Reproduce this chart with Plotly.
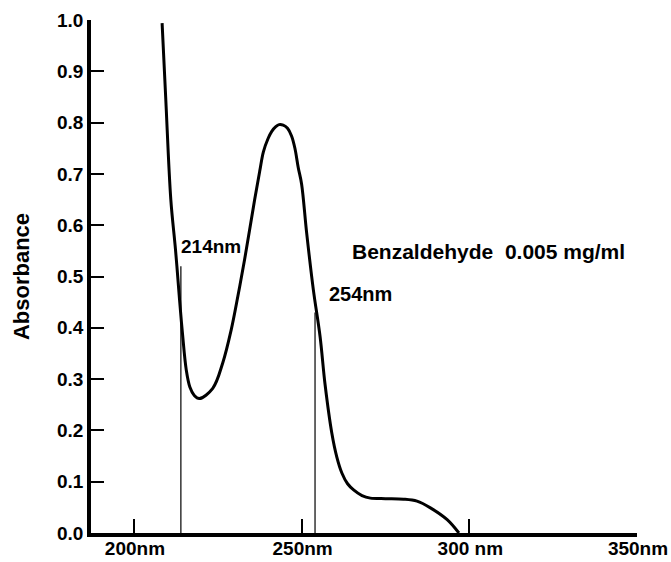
import plotly.graph_objects as go

# UV absorbance spectrum of benzaldehyde (0.005 mg/ml)
wavelength_nm = [208.4, 209.5, 211.0, 212.4, 213.6, 214.5, 215.6, 216.7, 218.0,
                 219.5, 223.5, 226.5, 229.0, 231.0, 233.0, 236.0, 237.5,
                 238.6, 240.0, 241.1, 242.3, 243.3, 244.5, 245.8, 247.0, 248.0,
                 249.0, 250.0, 251.5, 253.5, 255.5, 257.0, 259.0, 260.5, 262.0,
                 263.7, 265.5, 268.0, 270.5, 275.0, 280.4, 284.4, 288.4, 293.4,
                 296.9]
absorbance = [0.994, 0.845, 0.650, 0.552, 0.455, 0.387, 0.318, 0.284, 0.268,
              0.262, 0.282, 0.332, 0.396, 0.462, 0.533, 0.650, 0.705,
              0.743, 0.769, 0.783, 0.792, 0.796, 0.795, 0.789, 0.774, 0.750,
              0.712, 0.680, 0.585, 0.474, 0.383, 0.289, 0.195, 0.148, 0.117,
              0.096, 0.084, 0.073, 0.068, 0.067, 0.066, 0.062, 0.049, 0.026,
              0.0]

# Marked detection wavelengths and the height of each marker line
marker_nm = [214, 254]
marker_top = [0.52, 0.43]
marker_labels = ["214nm", "254nm"]

x_ticks = [200, 250, 300, 350]
x_tick_labels = ["200nm", "250nm", "300 nm", "350nm"]
y_ticks = [0.0, 0.1, 0.2, 0.3, 0.4, 0.5, 0.6, 0.7, 0.8, 0.9, 1.0]
y_tick_labels = ["0.0", "0.1", "0.2", "0.3", "0.4", "0.5", "0.6", "0.7", "0.8", "0.9", "1.0"]

FONT = "Liberation Sans, Arial, Helvetica, sans-serif"

fig = go.Figure()

# thin vertical marker lines at the detection wavelengths
for nm, top in zip(marker_nm, marker_top):
    fig.add_trace(go.Scatter(
        x=[nm, nm], y=[0, top], mode="lines",
        line=dict(color="black", width=1.2),
        hoverinfo="skip", showlegend=False))

# the spectrum
fig.add_trace(go.Scatter(
    x=wavelength_nm, y=absorbance, mode="lines",
    line=dict(color="black", width=3, shape="spline", smoothing=1.0),
    showlegend=False, name="Benzaldehyde"))

fig.add_annotation(x=marker_nm[0] - 0.6, y=0.559, text=marker_labels[0],
                   xanchor="left", yanchor="middle", showarrow=False,
                   font=dict(family=FONT, size=19, color="black", weight="bold"))
fig.add_annotation(x=marker_nm[1] + 3.7, y=0.466, text=marker_labels[1],
                   xanchor="left", yanchor="middle", showarrow=False,
                   font=dict(family=FONT, size=20, color="black", weight="bold"))
fig.add_annotation(x=264.5, y=0.548, text="Benzaldehyde\u00a0 0.005 mg/ml",
                   xanchor="left", yanchor="middle", showarrow=False,
                   font=dict(family=FONT, size=21, color="black", weight="bold"))

fig.update_xaxes(
    range=[187.2, 350], tickmode="array", tickvals=x_ticks, ticktext=x_tick_labels,
    ticks="inside", ticklen=14, tickwidth=2, tickcolor="black",
    showline=True, linecolor="black", linewidth=3.5,
    showgrid=False, zeroline=False, automargin=False,
    ticklabelstandoff=-5, ticklabelshift=1, ticklabeloverflow="allow",
    tickfont=dict(family=FONT, size=19, color="black", weight="bold"))

fig.update_yaxes(
    range=[0, 1.0], tickmode="array", tickvals=y_ticks, ticktext=y_tick_labels,
    ticks="inside", ticklen=13, tickwidth=2, tickcolor="black",
    showline=True, linecolor="black", linewidth=3.5,
    showgrid=False, zeroline=False, automargin=False,
    tickfont=dict(family=FONT, size=19, color="black", weight="bold"),
    title=dict(text="Absorbance", standoff=22,
               font=dict(family=FONT, size=22, color="black", weight="bold")))

fig.update_layout(
    width=671, height=562,
    margin=dict(l=91, r=34, t=20, b=29),
    paper_bgcolor="white", plot_bgcolor="white",
    showlegend=False)

fig.write_html("out.html")
